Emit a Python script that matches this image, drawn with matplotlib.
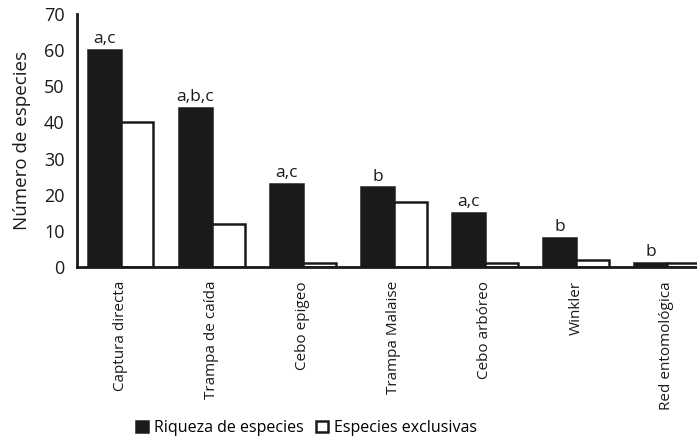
import matplotlib
matplotlib.use("Agg")
import matplotlib.pyplot as plt
import numpy as np

categories = ["Captura directa", "Trampa de caída", "Cebo epigeo", "Trampa Malaise",
              "Cebo arbóreo", "Winkler", "Red entomológica"]
riqueza = [60, 44, 23, 22, 15, 8, 1]
exclusivas = [40, 12, 1, 18, 1, 2, 1]
letters = ["a,c", "a,b,c", "a,c", "b", "a,c", "b", "b"]
yticks = [0, 10, 20, 30, 40, 50, 60, 70]

plt.rcParams['font.family'] = ['Open Sans', 'DejaVu Sans']

fig = plt.figure(figsize=(6.97, 4.43), dpi=100)
ax = fig.add_axes([77/697, 1 - 267/443, (697 - 77)/697, (267 - 14)/443])

x = np.arange(len(categories))
w = 0.36
ax.bar(x - w/2, riqueza, w, color='#1a1a1a', edgecolor='#1a1a1a', linewidth=1.8,
       label='Riqueza de especies')
ax.bar(x + w/2, exclusivas, w, color='white', edgecolor='#1a1a1a', linewidth=1.8,
       label='Especies exclusivas')

for xi, v, t in zip(x, riqueza, letters):
    ax.text(xi - w/2, v + 0.8, t, ha='center', va='bottom', fontsize=12.5, color='#1a1a1a')

ax.set_xlim(-0.48, 6.33)
ax.set_ylim(0, 70)
ax.set_yticks(yticks)
ax.set_xticks(x)
ax.set_xticklabels(categories, rotation=90, ha='center', va='top', fontsize=11)
ax.tick_params(axis='both', length=0, colors='#1a1a1a')
ax.tick_params(axis='y', labelsize=13, pad=9)
ax.tick_params(axis='x', pad=10)
ax.set_ylabel('Número de especies', fontsize=13.5, color='#1a1a1a', labelpad=9)

for s in ['top', 'right']:
    ax.spines[s].set_visible(False)
for s in ['left', 'bottom']:
    ax.spines[s].set_linewidth(2)
    ax.spines[s].set_color('#1a1a1a')

leg = fig.legend(loc='center', bbox_to_anchor=(0.44, 1 - 428/443), ncol=2, frameon=False,
                 fontsize=11.5, handlelength=0.7, handleheight=0.7, handletextpad=0.4,
                 columnspacing=0.8)

fig.savefig('out.png', dpi=100)
